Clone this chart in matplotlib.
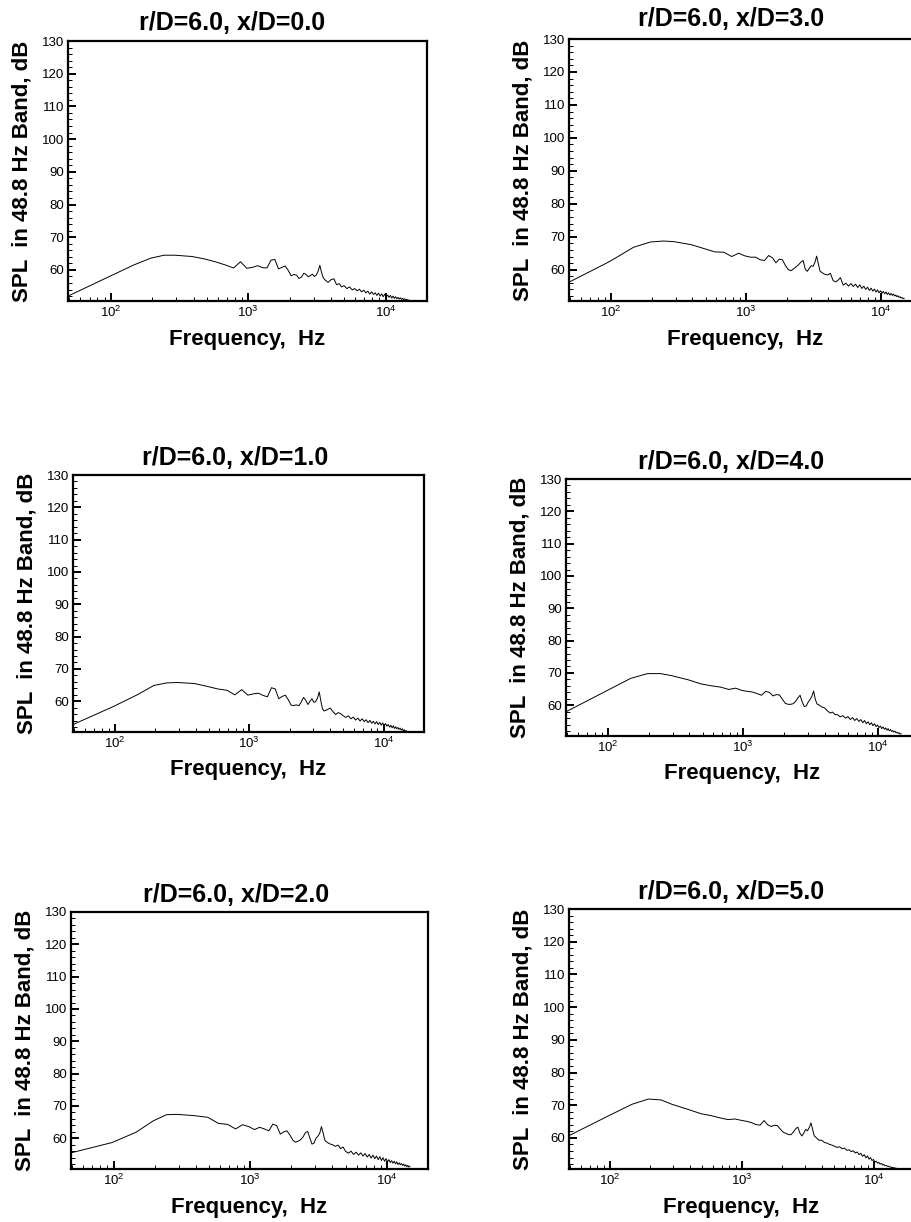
# -*- coding: utf-8 -*-

import matplotlib
matplotlib.use('Agg')
import matplotlib.pyplot as plt
from matplotlib.ticker import LogLocator, LogFormatterMathtext, MultipleLocator, NullFormatter

plt.rcParams['font.family'] = ['Liberation Sans', 'DejaVu Sans']
plt.rcParams['mathtext.fontset'] = 'custom'
plt.rcParams['mathtext.rm'] = 'Liberation Sans'
plt.rcParams['mathtext.it'] = 'Liberation Sans:italic'
plt.rcParams['mathtext.bf'] = 'Liberation Sans:bold'

# ---- data ----------------------------------------------------------------
freq_hz = [48.8, 97.7, 146.5, 195.3, 244.1, 293.0, 390.6, 488.3, 585.9, 683.6,
           781.3, 878.9, 976.6,
           1074, 1172, 1270, 1367, 1465, 1563, 1660, 1758, 1855, 1953,
           2051, 2148, 2246, 2344, 2441, 2539, 2637, 2734, 2832, 2930,
           3027, 3125, 3223, 3320, 3418, 3516, 3613,
           3809, 4004, 4199, 4395, 4590, 4785,
           4980, 5225, 5469, 5713, 5957, 6201, 6445, 6689, 6934, 7178,
           7422, 7666, 7910, 8154, 8398, 8643, 8887, 9131, 9375, 9619,
           9863, 10107, 10352, 10596, 10840, 11084, 11328, 11572, 11816, 12061,
           12305, 12549, 12793, 13037, 13281, 13525, 13770, 14014, 14258, 14502,
           14746]

spl_xd0 = [52.0, 58.0, 61.5, 63.6, 64.5, 64.5, 64.1, 63.3, 62.4, 61.5,
           60.6, 62.5, 60.5,
           60.8, 61.3, 60.7, 60.6, 63.0, 63.2, 60.3, 60.8, 61.2, 59.9,
           58.2, 58.6, 58.4, 57.4, 57.8, 59.0, 58.6, 57.9, 58.3, 58.7,
           58.0, 58.4, 59.6, 61.4, 59.2, 57.6, 57.0,
           56.2, 57.0, 57.3, 55.5, 55.8, 54.8,
           55.2, 54.3, 54.8, 53.9, 54.3, 53.6, 54.1, 53.3, 53.8, 53.0,
           53.5, 52.6, 53.3, 52.5, 53.0, 52.2, 52.9, 52.0, 52.7, 51.8,
           52.6, 51.7, 52.3, 51.6, 52.2, 51.4, 52.0, 51.3, 51.8, 51.2,
           51.6, 51.1, 51.5, 51.0, 51.3, 50.9, 51.2, 50.8, 51.0, 50.7,
           50.8]

spl_xd1 = [52.8, 58.4, 62.0, 64.9, 65.7, 65.8, 65.5, 64.6, 63.8, 63.4,
           62.0, 63.6, 61.9,
           62.3, 62.5, 61.8, 61.4, 64.2, 63.8, 60.8, 61.5, 61.9, 60.5,
           58.8, 58.7, 58.9, 58.6, 59.8, 61.2, 60.3, 59.0, 60.0, 60.8,
           59.7, 59.9, 61.0, 62.9, 60.0, 57.6, 57.0,
           57.4, 57.9, 56.8, 55.9, 56.5, 56.2,
           55.6, 55.0, 55.5, 54.6, 55.1, 54.2, 54.8, 53.9, 54.6, 53.7,
           54.3, 53.4, 54.1, 53.2, 53.8, 53.0, 53.7, 52.8, 53.5, 52.6,
           53.3, 52.4, 53.1, 52.3, 52.8, 52.0, 52.6, 51.8, 52.4, 51.6,
           52.1, 51.5, 51.9, 51.3, 51.7, 51.1, 51.5, 50.9, 51.2, 50.8,
           50.9]

spl_xd2 = [55.5, 58.7, 61.9, 65.4, 67.3, 67.4, 67.0, 66.5, 64.6, 64.3,
           62.9, 64.2, 63.6,
           62.7, 63.4, 62.9, 62.3, 64.4, 63.9, 61.3, 62.0, 62.3, 61.0,
           59.4, 58.8, 59.1, 59.6, 60.5, 61.8, 62.1, 60.0, 58.2, 58.5,
           60.0, 60.6, 61.5, 63.6, 61.6, 59.4, 58.9,
           58.3, 58.0, 57.5, 57.9, 56.8, 57.3,
           56.0, 55.4, 56.0, 55.0, 55.7, 54.8, 55.5, 54.5, 55.3, 54.2,
           55.0, 53.9, 54.8, 53.7, 54.5, 53.4, 54.3, 53.1, 54.0, 52.9,
           53.7, 52.7, 53.4, 52.5, 53.1, 52.3, 52.9, 52.1, 52.7, 51.9,
           52.4, 51.8, 52.2, 51.6, 52.0, 51.4, 51.8, 51.2, 51.6, 51.1,
           51.3]

spl_xd3 = [56.2, 62.5, 66.8, 68.4, 68.7, 68.5, 67.6, 66.4, 65.4, 65.3,
           64.0, 65.0, 64.2,
           63.8, 63.8, 63.0, 62.8, 64.3, 63.6, 62.1, 63.2, 63.0, 61.2,
           60.0, 59.7, 60.3, 60.9, 61.5, 62.3, 62.8, 60.2, 59.5, 60.4,
           61.2, 61.0, 62.2, 64.1, 61.8, 59.6, 59.2,
           58.6, 58.4, 58.9, 56.7, 56.3, 56.8,
           57.6, 55.3, 55.9, 55.0, 55.8, 54.9, 55.6, 54.6, 55.4, 54.3,
           55.0, 54.0, 54.7, 53.7, 54.4, 53.5, 54.1, 53.2, 53.9, 53.0,
           53.6, 52.9, 53.4, 52.7, 53.2, 52.5, 53.0, 52.3, 52.8, 52.2,
           52.6, 52.0, 52.3, 51.8, 52.1, 51.6, 51.8, 51.4, 51.6, 51.2,
           51.3]

spl_xd4 = [58.0, 64.5, 68.3, 69.8, 69.8, 69.2, 67.9, 66.6, 66.0, 65.6,
           64.9, 65.3, 64.6,
           64.3, 64.1, 63.6, 63.1, 64.3, 64.0, 62.9, 63.3, 63.2, 61.8,
           60.6, 60.3, 60.3, 60.5, 61.2, 62.3, 63.1, 61.0, 59.6, 59.8,
           61.0, 61.8, 62.8, 64.4, 61.8, 60.4, 60.2,
           59.5, 59.2, 58.3, 57.6, 57.9, 57.1,
           57.1, 56.4, 56.8, 56.0, 56.5, 55.6, 56.2, 55.3, 55.9, 55.0,
           55.6, 54.6, 55.3, 54.3, 54.9, 54.0, 54.6, 53.7, 54.3, 53.4,
           53.9, 53.1, 53.6, 52.8, 53.3, 52.6, 53.0, 52.3, 52.8, 52.1,
           52.5, 51.9, 52.2, 51.7, 52.0, 51.5, 51.7, 51.3, 51.5, 51.1,
           51.2]

spl_xd5 = [60.7, 66.8, 70.3, 71.9, 71.6, 70.3, 68.7, 67.4, 66.8, 66.1,
           65.6, 65.8, 65.4,
           65.1, 64.7, 64.1, 63.9, 65.3, 64.0, 63.5, 63.9, 63.7, 62.6,
           61.7, 61.4, 61.0, 61.0, 61.8, 62.8, 63.3, 61.5, 60.6, 61.5,
           62.6, 62.2, 63.2, 64.6, 62.5, 60.6, 60.2,
           59.3, 59.3, 58.6, 58.4, 58.0, 57.8,
           57.5, 57.1, 57.3, 56.7, 56.9, 56.2, 56.4, 55.8, 56.1, 55.4,
           55.7, 54.9, 55.3, 54.4, 54.9, 53.9, 54.5, 53.5, 54.0, 53.1,
           53.4, 52.6, 52.9, 52.3, 52.5, 52.0, 52.2, 51.7, 51.9, 51.5,
           51.6, 51.3, 51.4, 51.1, 51.2, 50.9, 51.0, 50.8, 50.9, 50.7,
           50.7]

titles = ['r/D=6.0, x/D=0.0', 'r/D=6.0, x/D=1.0', 'r/D=6.0, x/D=2.0',
          'r/D=6.0, x/D=3.0', 'r/D=6.0, x/D=4.0', 'r/D=6.0, x/D=5.0']
series = [spl_xd0, spl_xd1, spl_xd2, spl_xd3, spl_xd4, spl_xd5]

y_major = [60, 70, 80, 90, 100, 110, 120, 130]

# ---- layout, in pixels of the 912 x 1222 picture ------------------------
W, H = 912, 1222
# (left, top, right, bottom) of each frame
boxes = [(68, 41, 427, 301), (73, 475, 424, 732), (71, 912, 428, 1169),
         (569, 39, 922, 301), (566, 479, 919, 736), (569, 909, 914, 1169)]
# title centre (x, y), x-label y, y-label x
title_xy = [(232, 23), (235, 458), (236, 895),
            (731, 19), (731, 462), (731, 892)]
xlabel_y = [339, 770, 1207, 339, 774, 1207]
ylabel_x = [22, 27, 25, 523, 520, 523]

fig = plt.figure(figsize=(W / 100, H / 100), dpi=100)


def px(x, y):
    return x / W, 1 - y / H


for i in range(6):
    l, t, r, b = boxes[i]
    ax = fig.add_axes([l / W, 1 - b / H, (r - l) / W, (b - t) / H])
    ax.plot(freq_hz, series[i], color='black', lw=0.7)
    ax.set_xscale('log')
    ax.set_xlim(48.8, 20000)
    ax.set_ylim(50.5, 130)

    ax.xaxis.set_major_locator(LogLocator(base=10))
    ax.xaxis.set_major_formatter(LogFormatterMathtext())
    ax.xaxis.set_minor_locator(LogLocator(base=10, subs=range(2, 10)))
    ax.xaxis.set_minor_formatter(NullFormatter())
    ax.set_yticks(y_major)
    ax.yaxis.set_minor_locator(MultipleLocator(2))

    ax.tick_params(which='both', direction='in', top=False, right=False,
                   labelsize=9.5, pad=3)
    ax.tick_params(which='major', length=6, width=1.4)
    ax.tick_params(which='minor', length=3, width=0.7)
    for sp in ax.spines.values():
        sp.set_linewidth(1.6)

    cx = (l + r) / 2
    fig.text(*px(*title_xy[i]), titles[i], ha='center', va='center',
             fontsize=18, fontweight='bold')
    fig.text(*px(cx, xlabel_y[i]), 'Frequency,  Hz', ha='center',
             va='center', fontsize=16, fontweight='bold')
    fig.text(*px(ylabel_x[i], (t + b) / 2), 'SPL  in 48.8 Hz Band, dB',
             ha='center', va='center', rotation=90, fontsize=16,
             fontweight='bold')

fig.savefig('out.png', dpi=100)
